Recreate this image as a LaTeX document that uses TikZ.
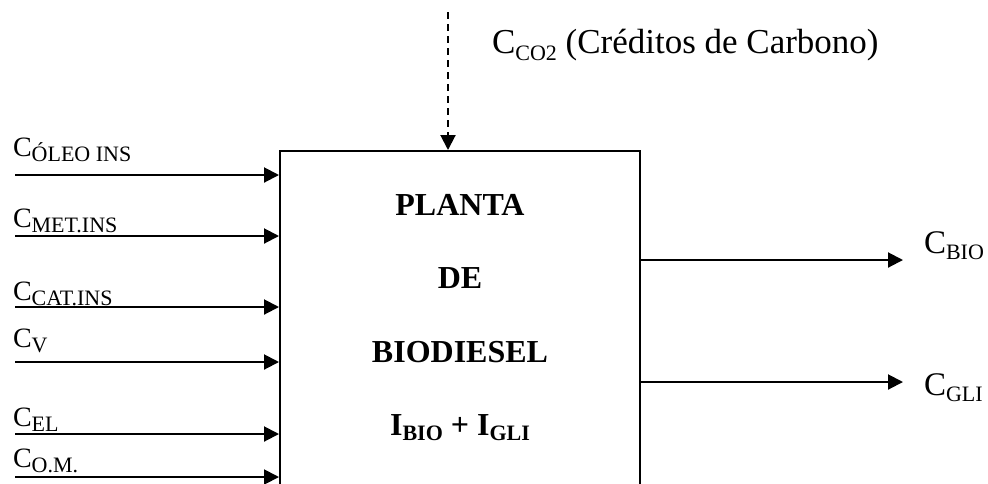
\documentclass[tikz,border=0pt]{standalone}
\usepackage{fontspec}
\setmainfont{Liberation Serif}
\usetikzlibrary{arrows.meta}
\newcommand{\lbl}[2]{#1\raisebox{-0.45ex}{\fontsize{11}{11}\selectfont #2}}
\newcommand{\blbl}[2]{#1\raisebox{-0.4ex}{\fontsize{11}{11}\selectfont #2}}
\begin{document}
\begin{tikzpicture}
			[x=0.5pt, y=-0.5pt, line width=1pt,
			every node/.style={font=\fontsize{14}{16}\selectfont, inner sep=0pt},
			arr/.style={-{Triangle[length=7.5pt,width=7.5pt]}},
			inlabel/.style={anchor=base west},
			biglabel/.style={anchor=base west, font=\fontsize{16.5}{18}\selectfont},
			boxtext/.style={anchor=base, font=\fontsize{16}{18}\selectfont\bfseries}]
			\useasboundingbox (0,0) rectangle (988,483);
			\clip (0,0) rectangle (988,483);
			\node[draw, minimum width=180pt, minimum height=184.5pt] (plant) at (460,335.5) {};
			\node[boxtext] (t1) at (460,215) {PLANTA};
			\node[boxtext] (t2) at (460,288) {DE};
			\node[boxtext] (t3) at (460,362) {BIODIESEL};
			\node[boxtext] (t4) at (460,435) {\blbl{I}{BIO} + \blbl{I}{GLI}};
			\coordinate (s1) at (15,175);
			\coordinate (s2) at (15,236);
			\coordinate (s3) at (15,307);
			\coordinate (s4) at (15,362);
			\coordinate (s5) at (15,434);
			\coordinate (s6) at (15,477);
			\node[inlabel] (c1) at (12,156) {\lbl{C}{ÓLEO INS}};
			\node[inlabel] (c2) at (12,227) {\lbl{C}{MET.INS}};
			\node[inlabel] (c3) at (12,300) {\lbl{C}{CAT.INS}};
			\node[inlabel] (c4) at (12,347) {\lbl{C}{V}};
			\node[inlabel] (c5) at (12,426) {\lbl{C}{EL}};
			\node[inlabel] (c6) at (12,467) {\lbl{C}{O.M.}};
			\foreach \i in {1,...,6}
				\draw[arr] (s\i) -- (s\i -| plant.west);
			\coordinate (top) at (448,12);
			\draw[arr, dash pattern=on 3.5pt off 2.5pt] (top) -- (top |- plant.north);
			\node[biglabel, font=\fontsize{17.5}{18}\selectfont] (co2) at (491,53) {\lbl{C}{CO2} (Créditos de Carbono)};
			\coordinate (o1) at (903,260);
			\coordinate (o2) at (903,382);
			\draw[arr] (o1 -| plant.east) -- (o1);
			\draw[arr] (o2 -| plant.east) -- (o2);
			\node[biglabel] (bio) at (923,253) {\lbl{C}{BIO}};
			\node[biglabel] (gli) at (923,395) {\lbl{C}{GLI}};
		\end{tikzpicture}
\end{document}
